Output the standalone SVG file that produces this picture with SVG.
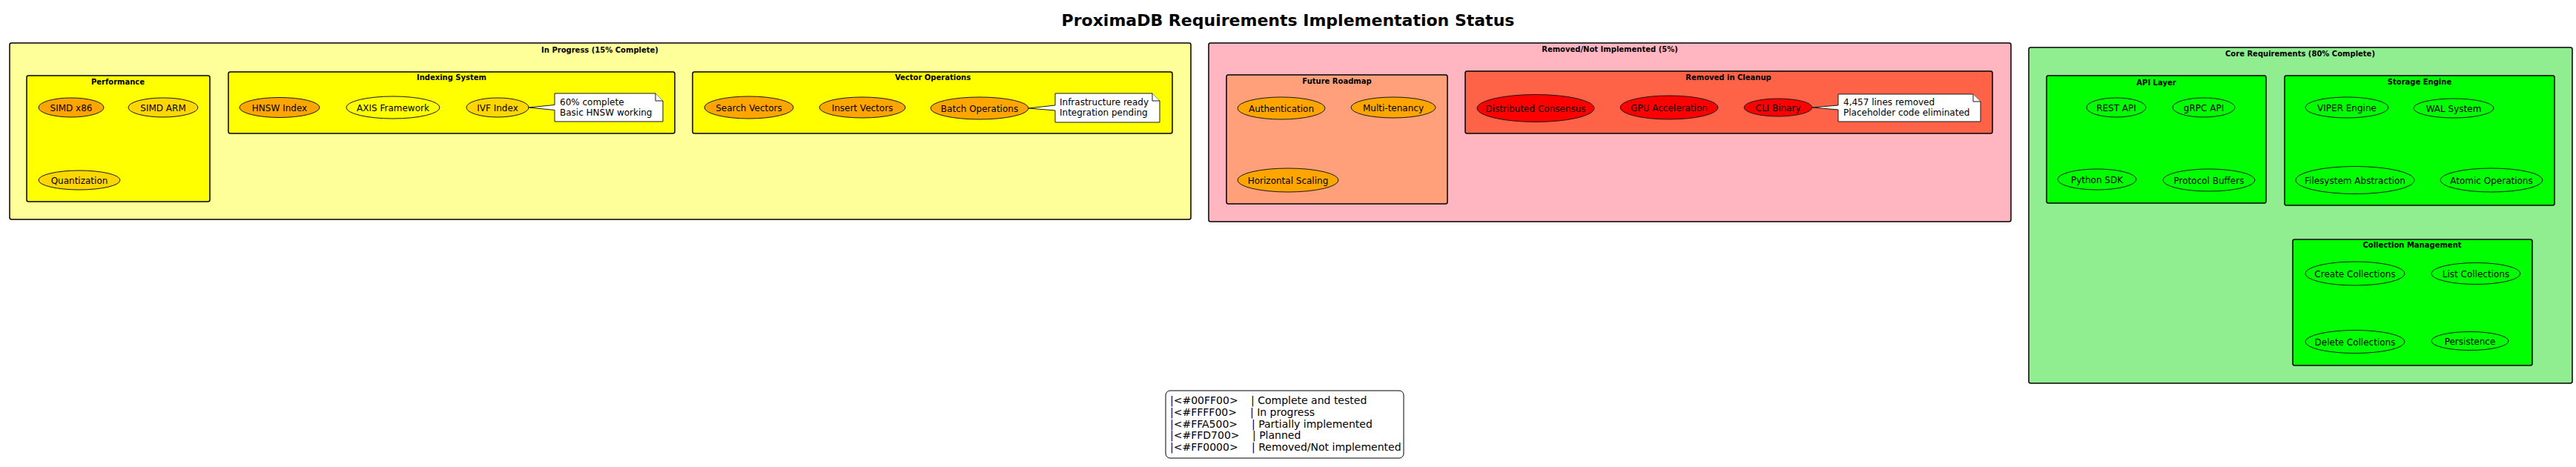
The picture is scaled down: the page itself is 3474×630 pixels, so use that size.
<svg xmlns="http://www.w3.org/2000/svg" width="3474" height="630" viewBox="0 0 3474 630">
<style>
text{font-family:"DejaVu Sans","Liberation Sans",sans-serif;fill:#000}
.title{font-size:22px;font-weight:bold;text-anchor:middle}
.pkg{stroke:#000;stroke-width:1.5}
.pt{font-size:10px;font-weight:bold;text-anchor:middle}
.uc{stroke:#181818;stroke-width:1}
.ut{font-size:12px;text-anchor:middle}
.note{fill:#fff;stroke:#181818;stroke-width:1}
.nt{font-size:12px}
.lg{font-size:14px}
.or{fill:#FFA500}.gd{fill:#FFD700}.ye{fill:#FFFF00}.rd{fill:#FF0000}.gr{fill:#00FF00}
</style>
<rect width="3474" height="630" fill="#fff"/>
<text class="title" x="1737" y="35">ProximaDB Requirements Implementation Status</text>

<g id="pkg-inprogress">
<rect class="pkg" x="13" y="58" width="1593" height="238" rx="2.5" fill="#FFFF99"/>
<text class="pt" x="809" y="71">In Progress (15% Complete)</text>
</g>
<g id="pkg-performance">
<rect class="pkg" x="36" y="102" width="247" height="170" rx="2.5" fill="#FFFF00"/>
<text class="pt" x="159" y="114">Performance</text>
</g>
<g id="simd-x86"><ellipse class="uc or" cx="96" cy="145" rx="44" ry="13"/><text class="ut" x="96" y="149.5">SIMD x86</text></g>
<g id="simd-arm"><ellipse class="uc gd" cx="220" cy="145" rx="47" ry="13"/><text class="ut" x="220" y="149.5">SIMD ARM</text></g>
<g id="quantization"><ellipse class="uc gd" cx="107" cy="243" rx="55" ry="13"/><text class="ut" x="107" y="247.5">Quantization</text></g>

<g id="pkg-indexing">
<rect class="pkg" x="308" y="97" width="602" height="83" rx="2.5" fill="#FFFF00"/>
<text class="pt" x="609" y="108">Indexing System</text>
</g>
<g id="hnsw-index"><ellipse class="uc or" cx="377" cy="145" rx="54" ry="13.5"/><text class="ut" x="377" y="149.5">HNSW Index</text></g>
<g id="axis-framework"><ellipse class="uc ye" cx="530" cy="145" rx="63" ry="15"/><text class="ut" x="530" y="149.5">AXIS Framework</text></g>
<g id="ivf-index"><ellipse class="uc gd" cx="671" cy="145" rx="42" ry="13"/><text class="ut" x="671" y="149.5">IVF Index</text></g>
<g id="note-ivf">
<path class="note" d="M748,126 H884 L894,136 V164 H748 Z"/>
<path class="note" d="M884,126 V136 H894" fill="none"/>
<text class="nt" x="755" y="141.5">60% complete</text>
<text class="nt" x="755" y="155.5">Basic HNSW working</text>
</g>

<g id="pkg-vector">
<rect class="pkg" x="934" y="97" width="647" height="83" rx="2.5" fill="#FFFF00"/>
<text class="pt" x="1258" y="108">Vector Operations</text>
</g>
<g id="search-vectors"><ellipse class="uc or" cx="1010" cy="145" rx="60" ry="15"/><text class="ut" x="1010" y="149.5">Search Vectors</text></g>
<g id="insert-vectors"><ellipse class="uc or" cx="1163" cy="145" rx="58" ry="14"/><text class="ut" x="1163" y="149.5">Insert Vectors</text></g>
<g id="batch-operations"><ellipse class="uc or" cx="1321" cy="146" rx="66" ry="15"/><text class="ut" x="1321" y="150.5">Batch Operations</text></g>
<g id="note-batch">
<path class="note" d="M1423,126 H1554 L1564,136 V165 H1423 Z"/>
<path class="note" d="M1554,126 V136 H1564" fill="none"/>
<text class="nt" x="1429" y="141.5">Infrastructure ready</text>
<text class="nt" x="1429" y="155.5">Integration pending</text>
</g>

<g id="pkg-removed">
<rect class="pkg" x="1630" y="58" width="1082" height="241" rx="2.5" fill="#FFB6C1"/>
<text class="pt" x="2171" y="70">Removed/Not Implemented (5%)</text>
</g>
<g id="pkg-roadmap">
<rect class="pkg" x="1654" y="101" width="298" height="174" rx="2.5" fill="#FFA07A"/>
<text class="pt" x="1803" y="113">Future Roadmap</text>
</g>
<g id="authentication"><ellipse class="uc or" cx="1728" cy="146" rx="59" ry="15"/><text class="ut" x="1728" y="150.5">Authentication</text></g>
<g id="multi-tenancy"><ellipse class="uc or" cx="1879" cy="145" rx="57" ry="14"/><text class="ut" x="1879" y="149.5">Multi-tenancy</text></g>
<g id="horizontal-scaling"><ellipse class="uc or" cx="1737" cy="243" rx="68" ry="16"/><text class="ut" x="1737" y="247.5">Horizontal Scaling</text></g>

<g id="pkg-cleanup">
<rect class="pkg" x="1976" y="96" width="711" height="84" rx="2.5" fill="#FF6347"/>
<text class="pt" x="2331" y="108">Removed in Cleanup</text>
</g>
<g id="distributed-consensus"><ellipse class="uc rd" cx="2071" cy="146" rx="79" ry="18.5"/><text class="ut" x="2071" y="150.5">Distributed Consensus</text></g>
<g id="gpu-acceleration"><ellipse class="uc rd" cx="2251" cy="145" rx="66" ry="16"/><text class="ut" x="2251" y="149.5">GPU Acceleration</text></g>
<g id="cli-binary"><ellipse class="uc rd" cx="2398" cy="145" rx="46" ry="12"/><text class="ut" x="2398" y="149.5">CLI Binary</text></g>
<g id="note-cli">
<path class="note" d="M2479,127 H2661 L2671,137 V164 H2479 Z"/>
<path class="note" d="M2661,127 V137 H2671" fill="none"/>
<text class="nt" x="2486" y="142">4,457 lines removed</text>
<text class="nt" x="2486" y="156">Placeholder code eliminated</text>
</g>

<g id="pkg-core">
<rect class="pkg" x="2736" y="64" width="733" height="453" rx="2.5" fill="#90EE90"/>
<text class="pt" x="3102" y="76">Core Requirements (80% Complete)</text>
</g>
<g id="pkg-api">
<rect class="pkg" x="2760" y="102" width="296" height="172" rx="2.5" fill="#00FF00"/>
<text class="pt" x="2908" y="114.5">API Layer</text>
</g>
<g id="rest-api"><ellipse class="uc gr" cx="2854" cy="145" rx="40" ry="13"/><text class="ut" x="2854" y="149.5">REST API</text></g>
<g id="grpc-api"><ellipse class="uc gr" cx="2972" cy="145" rx="42" ry="13"/><text class="ut" x="2972" y="149.5">gRPC API</text></g>
<g id="python-sdk"><ellipse class="uc gr" cx="2828" cy="242" rx="53" ry="14"/><text class="ut" x="2828" y="246.5">Python SDK</text></g>
<g id="protocol-buffers"><ellipse class="uc gr" cx="2979" cy="243" rx="62" ry="15"/><text class="ut" x="2979" y="247.5">Protocol Buffers</text></g>

<g id="pkg-storage">
<rect class="pkg" x="3081" y="102" width="364" height="175" rx="2.5" fill="#00FF00"/>
<text class="pt" x="3263" y="114">Storage Engine</text>
</g>
<g id="viper-engine"><ellipse class="uc gr" cx="3165" cy="145" rx="56" ry="14"/><text class="ut" x="3165" y="149.5">VIPER Engine</text></g>
<g id="wal-system"><ellipse class="uc gr" cx="3309" cy="146" rx="54" ry="13"/><text class="ut" x="3309" y="150.5">WAL System</text></g>
<g id="filesystem-abstraction"><ellipse class="uc gr" cx="3176" cy="243" rx="80" ry="18.5"/><text class="ut" x="3176" y="247.5">Filesystem Abstraction</text></g>
<g id="atomic-operations"><ellipse class="uc gr" cx="3360" cy="243" rx="69" ry="16"/><text class="ut" x="3360" y="247.5">Atomic Operations</text></g>

<g id="pkg-collection">
<rect class="pkg" x="3092" y="323" width="323" height="170" rx="2.5" fill="#00FF00"/>
<text class="pt" x="3253" y="334">Collection Management</text>
</g>
<g id="create-collections"><ellipse class="uc gr" cx="3176" cy="369" rx="67" ry="16"/><text class="ut" x="3176" y="373.5">Create Collections</text></g>
<g id="list-collections"><ellipse class="uc gr" cx="3339" cy="369" rx="60" ry="14.5"/><text class="ut" x="3339" y="373.5">List Collections</text></g>
<g id="delete-collections"><ellipse class="uc gr" cx="3176" cy="461" rx="67" ry="15.5"/><text class="ut" x="3176" y="465.5">Delete Collections</text></g>
<g id="persistence"><ellipse class="uc gr" cx="3331" cy="460" rx="52" ry="12.5"/><text class="ut" x="3331" y="464.5">Persistence</text></g>

<g id="connectors">
<polygon points="749,141.5 713,145 749,148.5" fill="#fff"/>
<polyline points="748,141.5 713,145 748,148.5" fill="none" stroke="#181818" stroke-width="1"/>
<polygon points="1424,142 1387,146 1424,149" fill="#fff"/>
<polyline points="1423,142 1387,146 1423,149" fill="none" stroke="#181818" stroke-width="1"/>
<polygon points="2480,142 2444,145 2480,148" fill="#fff"/>
<polyline points="2479,142 2444,145 2479,148" fill="none" stroke="#181818" stroke-width="1"/>
</g>

<g id="legend">
<rect x="1572" y="527" width="321" height="91" rx="6" fill="#fff" stroke="#000" stroke-width="1"/>
<text class="lg" x="1578" y="545">|&lt;#00FF00&gt;</text><text class="lg" x="1687" y="545">| Complete and tested</text>
<text class="lg" x="1578" y="561">|&lt;#FFFF00&gt;</text><text class="lg" x="1686" y="561">| In progress</text>
<text class="lg" x="1578" y="576.5">|&lt;#FFA500&gt;</text><text class="lg" x="1688" y="576.5">| Partially implemented</text>
<text class="lg" x="1578" y="592">|&lt;#FFD700&gt;</text><text class="lg" x="1689" y="592">| Planned</text>
<text class="lg" x="1578" y="607.5">|&lt;#FF0000&gt;</text><text class="lg" x="1688" y="607.5">| Removed/Not implemented</text>
</g>
</svg>
